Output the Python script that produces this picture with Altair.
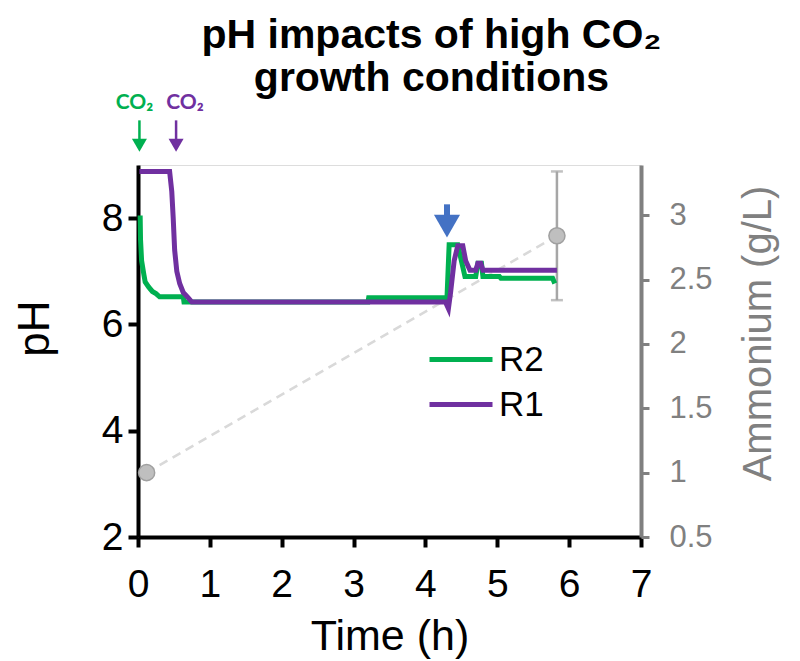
import altair as alt
import pandas as pd

FONT = "Liberation Sans"

# ---- data ----
R2_TIME = [0.03, 0.035, 0.05, 0.08, 0.10, 0.15, 0.20, 0.25, 0.30, 0.63, 0.64, 3.20, 3.21,
           4.30, 4.33, 4.45, 4.50, 4.55, 4.70, 4.73, 4.78, 4.80, 5.03, 5.05, 5.77, 5.80]
R2_PH = [8.05, 7.60, 7.20, 6.95, 6.80, 6.70, 6.62, 6.58, 6.52, 6.52, 6.42, 6.42, 6.50,
         6.50, 7.50, 7.50, 7.20, 6.90, 6.90, 7.15, 7.15, 6.90, 6.90, 6.87, 6.87, 6.77]

R1_TIME = [0.02, 0.44, 0.47, 0.49, 0.51, 0.54, 0.58, 0.63, 0.70, 0.75, 4.28, 4.32, 4.35,
           4.40, 4.45, 4.52, 4.56, 4.62, 4.70, 4.73, 4.77, 4.80, 5.83]
R1_PH = [8.88, 8.88, 8.50, 8.00, 7.40, 7.00, 6.77, 6.60, 6.50, 6.42, 6.42, 6.30, 6.60,
         7.20, 7.48, 7.48, 7.20, 7.02, 7.02, 7.15, 7.15, 7.02, 7.02]

NH4_TIME = [0.12, 5.83]
NH4_VAL = [1.0, 2.84]
NH4_ERR = [0.0, 0.5]

CO2_SERIES = ["R2", "R1"]
CO2_TIME = [0.02, 0.53]
FEED_TIME = [4.30]

SERIES = ["R2", "R1"]
COLORS = ["#00B050", "#7030A0"]
X_TICKS = [0, 1, 2, 3, 4, 5, 6, 7]
PH_TICKS = [2, 4, 6, 8]
NH4_TICKS = [0.5, 1.0, 1.5, 2.0, 2.5, 3.0]

# ---- tables ----
r2 = pd.DataFrame({"time": R2_TIME, "pH": R2_PH, "series": "R2"})
r1 = pd.DataFrame({"time": R1_TIME, "pH": R1_PH, "series": "R1"})
nh4 = pd.DataFrame({"time": NH4_TIME, "nh4": NH4_VAL, "err": NH4_ERR})
nh4["lo"] = nh4["nh4"] - nh4["err"]
nh4["hi"] = nh4["nh4"] + nh4["err"]
nh4_err = nh4[nh4["err"] > 0]
co2 = pd.DataFrame({"time": CO2_TIME, "series": CO2_SERIES})
feed = pd.DataFrame({"time": FEED_TIME})

# ---- scales / axes ----
x_axis = alt.Axis(values=X_TICKS, title="Time (h)", grid=False, domainColor="black",
                  domainWidth=4, tickColor="black", tickWidth=4, tickSize=10,
                  labelFontSize=39, labelColor="black", labelFont=FONT, labelPadding=18,
                  labelFlush=False, labelOverlap=False,
                  titleFontSize=43, titleFont=FONT, titleColor="black", titleFontWeight="normal",
                  titleBaseline="alphabetic", titleY=112)
x_enc = alt.X("time:Q", scale=alt.Scale(domain=[0, 7], nice=False, zero=False), axis=x_axis)

ph_axis = alt.Axis(values=PH_TICKS, title="pH", grid=False, domainColor="black",
                   domainWidth=4, tickColor="black", tickWidth=4, tickSize=10,
                   labelFontSize=39, labelColor="black", labelFont=FONT, labelPadding=5,
                   labelFlush=False, labelOverlap=False,
                   titleFontSize=44, titleFont=FONT, titleColor="black", titleFontWeight="normal",
                   titleAngle=270, titleBaseline="alphabetic", titleX=-90, titleY=163)
ph_scale = alt.Scale(domain=[2, 9], nice=False, zero=False)

nh4_axis = alt.Axis(values=NH4_TICKS, orient="right", title="Ammonium (g/L)", grid=False,
                    domainColor="#808080", domainWidth=4, tickColor="#808080", tickWidth=3,
                    tickSize=8, labelFontSize=31, labelColor="#808080", labelFont=FONT,
                    labelPadding=20, format=".1~f", labelFlush=False, labelOverlap=False,
                    titleFontSize=40, titleFont=FONT,
                    titleColor="#808080", titleFontWeight="normal", titleAngle=270,
                    titleBaseline="top", titleX=97, titleY=168)
nh4_scale = alt.Scale(domain=[0.5, 3.39], nice=False, zero=False)

color_scale = alt.Scale(domain=SERIES, range=COLORS)
legend = alt.Legend(orient="none", legendX=312, legendY=172, title=None,
                    symbolType="M-2.15,0H1", symbolSize=1600, symbolStrokeWidth=5,
                    labelFontSize=35, labelFont=FONT, labelColor="black", labelOffset=4,
                    rowPadding=4, padding=0)

y_ph = alt.Y("pH:Q", scale=ph_scale, axis=ph_axis)

# ---- pH lines ----
line_r2 = alt.Chart(r2).mark_line(strokeWidth=5, strokeJoin="miter").encode(
    x=x_enc, y=y_ph, color=alt.Color("series:N", scale=color_scale, legend=legend))
line_r1 = alt.Chart(r1).mark_line(strokeWidth=5, strokeJoin="miter").encode(
    x=x_enc, y=y_ph, color=alt.Color("series:N", scale=color_scale, legend=legend))

# ---- CO2 annotations ----
co2_stem = alt.Chart(co2).transform_calculate(pH="9.84", pH2="9.45").mark_rule(
    strokeWidth=2.5).encode(x=x_enc, y=y_ph, y2="pH2:Q",
                            color=alt.Color("series:N", scale=color_scale, legend=None))
co2_head = alt.Chart(co2).transform_calculate(pH="9.37").mark_point(
    shape="triangle-down", filled=True, size=225, opacity=1).encode(
    x=x_enc, y=y_ph, color=alt.Color("series:N", scale=color_scale, legend=None))
co2_text_g = alt.Chart(co2).transform_filter("datum.series == 'R2'").transform_calculate(
    pH="10.16").mark_text(text="CO₂", font="Lato", fontWeight="bold", fontSize=21, dx=-5).encode(
    x=x_enc, y=y_ph, color=alt.Color("series:N", scale=color_scale, legend=None))
co2_text_p = alt.Chart(co2).transform_filter("datum.series == 'R1'").transform_calculate(
    pH="10.16").mark_text(text="CO₂", font="Lato", fontWeight="bold", fontSize=21, dx=9).encode(
    x=x_enc, y=y_ph, color=alt.Color("series:N", scale=color_scale, legend=None))

# ---- feed arrow ----
feed_stem = alt.Chart(feed).transform_calculate(pH="8.26", pH2="7.95").mark_rule(
    strokeWidth=6, color="#4472C4").encode(x=x_enc, y=y_ph, y2="pH2:Q")
feed_head = alt.Chart(feed).transform_calculate(pH="7.85").mark_point(
    shape="triangle-down", filled=True, size=680, opacity=1, color="#4472C4").encode(
    x=x_enc, y=y_ph)

left = alt.layer(line_r2, line_r1, co2_stem, co2_head, co2_text_g, co2_text_p,
                 feed_stem, feed_head)

# ---- ammonium ----
y_nh4 = alt.Y("nh4:Q", scale=nh4_scale, axis=nh4_axis)
nh4_line = alt.Chart(nh4).mark_line(strokeWidth=2.5, color="#D9D9D9", strokeDash=[9, 6]).encode(
    x=x_enc, y=y_nh4)
nh4_bar = alt.Chart(nh4_err).mark_rule(strokeWidth=2.5, color="#A6A6A6").encode(
    x=x_enc, y=alt.Y("lo:Q", scale=nh4_scale, axis=nh4_axis), y2="hi:Q")
nh4_cap_lo = alt.Chart(nh4_err).mark_tick(orient="horizontal", size=12, thickness=2.5,
                                          color="#A6A6A6").encode(
    x=x_enc, y=alt.Y("lo:Q", scale=nh4_scale, axis=nh4_axis))
nh4_cap_hi = alt.Chart(nh4_err).mark_tick(orient="horizontal", size=12, thickness=2.5,
                                          color="#A6A6A6").encode(
    x=x_enc, y=alt.Y("hi:Q", scale=nh4_scale, axis=nh4_axis))
nh4_pts = alt.Chart(nh4).mark_point(filled=True, size=260, color="#BFBFBF", stroke="#A0A0A0",
                                    strokeWidth=1.5, opacity=1).encode(x=x_enc, y=y_nh4)

right = alt.layer(nh4_line, nh4_bar, nh4_cap_lo, nh4_cap_hi, nh4_pts)

chart = alt.layer(right, left).resolve_scale(y="independent").properties(
    width=503, height=372,
    title=alt.TitleParams(text=["pH impacts of high CO₂", "growth conditions"], font=FONT,
                          fontSize=41, fontWeight="bold", color="black", anchor="middle",
                          dx=42, dy=4, lineHeight=43, offset=-4),
    autosize=alt.AutoSizeParams(type="none"),
    padding={"left": 138, "top": 165, "right": 159, "bottom": 124},
).configure_view(stroke=None).configure(background="white")

chart.save("out.html", embed_options={"renderer": "svg", "actions": False})
